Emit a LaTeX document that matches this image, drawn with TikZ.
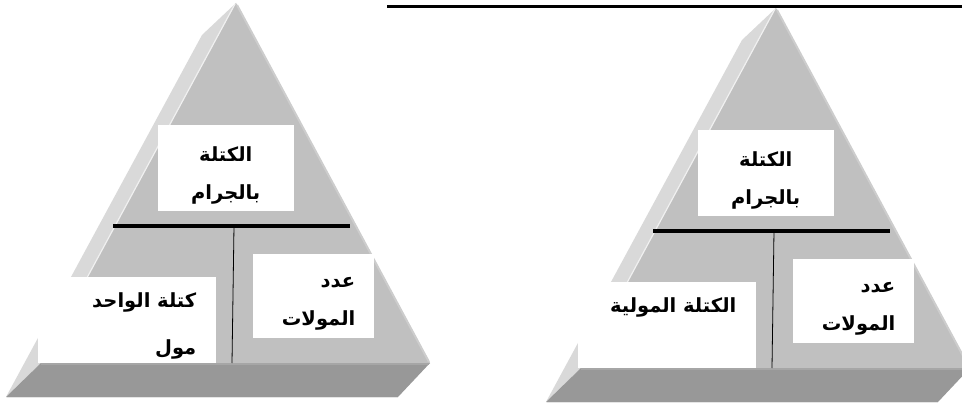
\documentclass[tikz,border=0pt]{standalone}
\usepackage{fontspec}
\newfontfamily\arabicfont[Script=Arabic]{DejaVu Sans}
\TeXXeTstate=1
\usetikzlibrary{calc}
\definecolor{facelight}{HTML}{D9D9D9}
\definecolor{facemain}{HTML}{C0C0C0}
\definecolor{facebase}{HTML}{989898}
\definecolor{edgehi}{HTML}{CDCDCD}
\definecolor{basehi}{HTML}{A6A6A6}
\tikzset{
  wbox/.style={fill=white, draw=none, inner sep=0pt, outer sep=0pt, anchor=north west},
  atext/.style={font=\arabicfont\bfseries\fontsize{19.5}{38}\selectfont, inner sep=0pt, text=black},
  divline/.style={line width=3.2pt, black},
  splitline/.style={line width=0.8pt, black},
  titleline/.style={line width=3pt, black},
}
\newcommand\drawpyr[3]{%
\begin{scope}[shift={#2}]
  \coordinate (#1A) at (0,0);
  \coordinate (#1N) at (-34,32);
  \coordinate (#1BL) at (-230,394);
  \coordinate (#1ML) at (-195,360);
  \coordinate (#1MR) at (194,360);
  \coordinate (#1BR) at (162,394);
  % faces
  \fill[facelight] (#1A) -- (#1N) -- (#1BL) -- (#1ML) -- cycle;
  \fill[facemain] (#1A) -- (#1ML) -- (#1MR) -- cycle;
  \fill[facebase] (#1ML) -- (#1MR) -- (#1BR) -- (#1BL) -- cycle;
  \draw[edgehi, line width=2pt] ($(#1A)+(1,2)$) -- ($(#1MR)+(-1,-1)$);
  \draw[white!88!gray, line width=1.2pt] ($(#1A)+(-1,1)$) -- ($(#1ML)+(1,-2)$);
  \draw[basehi, line width=1.5pt] ($(#1ML)+(0,0.8)$) -- ($(#1MR)+(-1,0.8)$);
  \draw[white!80!gray, line width=1pt] ($(#1BL)+(1,0)$) -- ($(#1BR)+(0,0)$);
  % divider lines
  \coordinate (#1v1) at (-2,223);
  \coordinate (#1v2) at (-4,360);
  \draw[splitline] (#1v1) -- (#1v2);
  % boxes
  \node[wbox, minimum width=135.5pt, minimum height=86pt] (#1top) at (-78,122.5) {};
  \node[wbox, minimum width=120.5pt, minimum height=84.5pt] (#1rgt) at (17,251) {};
  \node[wbox, minimum width=177.5pt, minimum height=85.5pt] (#1lft) at (-198,274.5) {};
  \coordinate (#1h1) at (-123,223);
  \coordinate (#1h2) at (114,223);
  \draw[divline] (#1h1) -- (#1h2);
  % texts
  \node[atext, align=center, anchor=north] (#1toptxt) at ($(#1top.north)+(0,21)$)
     {\beginR الكتلة\endR\\\beginR بالجرام\endR};
  \node[atext, align=right, anchor=north east] (#1rgttxt) at ($(#1rgt.north east)+(-18,23)$)
     {\beginR عدد\endR\\\beginR المولات\endR};
  \node[atext, align=right, anchor=north east] (#1lfttxt) at ($(#1lft.north east)+(-19,15)$)
     {#3};
\end{scope}}
\begin{document}
\begin{tikzpicture}[x=1pt, y=-1pt]
  \useasboundingbox (0,0) rectangle (962,406);
  \clip (0,0) rectangle (962,406);
  \drawpyr{L}{(236,3)}{\beginR كتلة الواحد\endR\\[9pt]\beginR مول\endR}
  \drawpyr{R}{(776,8)}{\beginR الكتلة المولية\endR}
  \coordinate (T1) at (387,7);
  \coordinate (T2) at (962,7);
  \draw[titleline] (T1) -- (T2);
\end{tikzpicture}
\end{document}
